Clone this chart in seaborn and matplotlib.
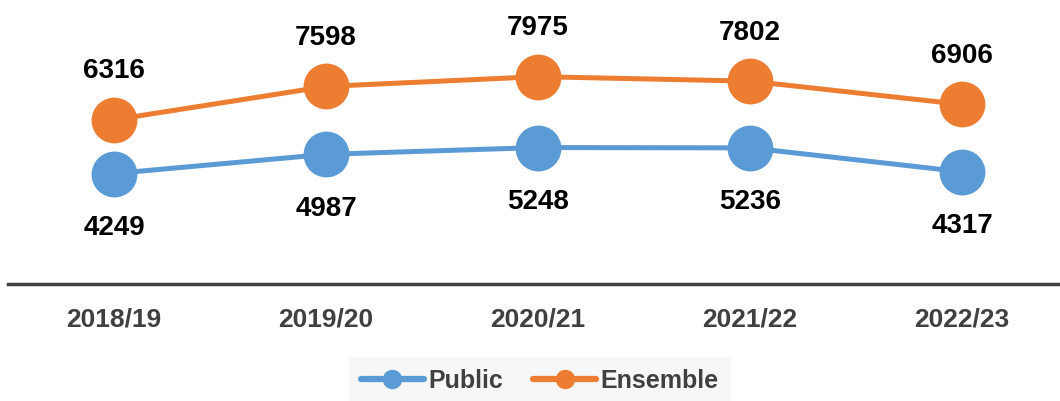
import pandas as pd
import seaborn as sns
import matplotlib.pyplot as plt
from matplotlib import font_manager

years = ['2018/19', '2019/20', '2020/21', '2021/22', '2022/23']
public = [4249, 4987, 5248, 5236, 4317]
ensemble = [6316, 7598, 7975, 7802, 6906]

colors = {'Public': '#5B9BD5', 'Ensemble': '#ED7D31'}

names = {f.name for f in font_manager.fontManager.ttflist}
narrow = 'Liberation Sans Narrow' if 'Liberation Sans Narrow' in names else 'Liberation Sans'

sns.set_style('white')
plt.rcParams['font.family'] = [narrow, 'DejaVu Sans']

df = pd.DataFrame({
    'Year': years * 2,
    'Value': public + ensemble,
    'Series': ['Public'] * len(years) + ['Ensemble'] * len(years),
})
df['x'] = df['Year'].map({y: i for i, y in enumerate(years)})

W, H = 1060, 401
fig = plt.figure(figsize=(W / 100, H / 100), dpi=100)
ax = fig.add_axes([8 / W, (H - 284) / H, 1052 / W, 260 / H])

sns.lineplot(data=df, x='x', y='Value', hue='Series', palette=colors,
             marker='o', markersize=33, markeredgewidth=0, linewidth=3.6,
             ax=ax, legend=False)

ax.set_xlim(-0.5, -0.5 + 1052 / 212)
ax.set_ylim(0, 10000)

for i, v in enumerate(ensemble):
    ax.annotate(str(v), (i, v), xytext=(0, 35), textcoords='offset points',
                ha='center', va='center', fontsize=20, fontweight='bold', color='black')
for i, v in enumerate(public):
    ax.annotate(str(v), (i, v), xytext=(0, -39), textcoords='offset points',
                ha='center', va='center', fontsize=20, fontweight='bold', color='black')

ax.set_xticks(range(len(years)))
ax.set_xticklabels(years, fontsize=19, fontweight='bold', color='#404040')
ax.tick_params(axis='x', length=0, pad=17)
ax.set_yticks([])
ax.set_xlabel('')
ax.set_ylabel('')
for s in ['top', 'right', 'left']:
    ax.spines[s].set_visible(False)
ax.spines['bottom'].set_color('#404040')
ax.spines['bottom'].set_linewidth(2.5)

handles = [plt.Line2D([], [], color=colors[k], marker='o', markersize=13, linewidth=4.5)
           for k in ['Public', 'Ensemble']]
leg = fig.legend(handles, ['Public', 'Ensemble'], loc='center', bbox_to_anchor=(540 / W, 20 / H),
                 ncol=2, frameon=True, fontsize=18, handlelength=2.5, handletextpad=0.2,
                 columnspacing=1.2, borderpad=0.5, fancybox=False)
leg.get_frame().set_facecolor('#f5f5f5')
leg.get_frame().set_edgecolor('none')
for t in leg.get_texts():
    t.set_fontweight('bold')
    t.set_color('#404040')

fig.savefig('out.png', dpi=100)
